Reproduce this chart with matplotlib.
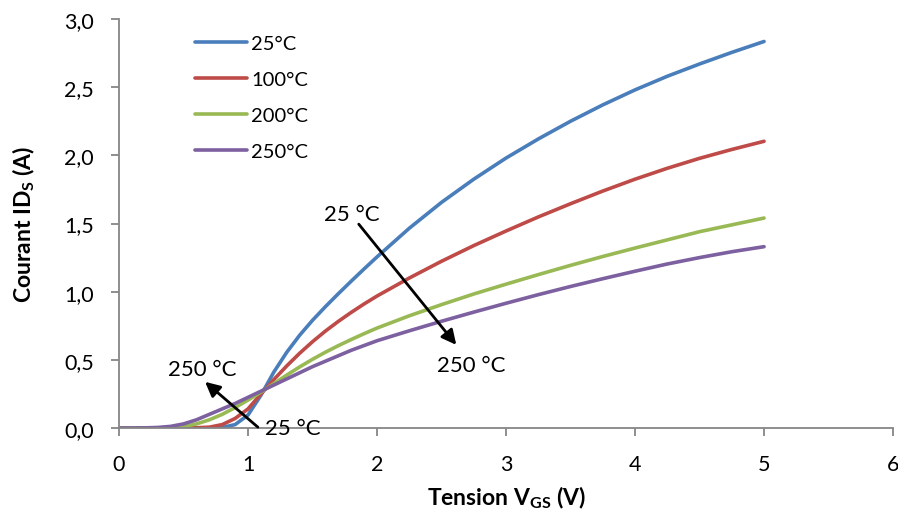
import matplotlib
matplotlib.use("Agg")
import matplotlib.pyplot as plt
from matplotlib.ticker import FuncFormatter

plt.rcParams['font.family'] = ['Lato', 'DejaVu Sans']
plt.rcParams['mathtext.fontset'] = 'custom'
plt.rcParams['mathtext.rm'] = 'Lato'
plt.rcParams['mathtext.bf'] = 'Lato:bold'

# data
vgs = [0, 0.1, 0.2, 0.3, 0.4, 0.5, 0.6, 0.7, 0.8, 0.9, 1.0, 1.1, 1.2, 1.3, 1.4, 1.5, 1.6,
       1.7, 1.8, 1.9, 2.0, 2.25, 2.5, 2.75, 3.0, 3.25, 3.5, 3.75, 4.0, 4.25, 4.5, 4.75, 5.0]
ids_25 = [0, 0, 0, 0, 0, 0, 0, 0.001, 0.004, 0.025, 0.095, 0.24, 0.41, 0.555, 0.68, 0.79, 0.89,
          0.985, 1.077, 1.167, 1.255, 1.465, 1.655, 1.825, 1.98, 2.12, 2.25, 2.37, 2.48, 2.58, 2.67, 2.755, 2.835]
ids_100 = [0, 0, 0, 0, 0, 0.001, 0.002, 0.006, 0.025, 0.07, 0.14, 0.25, 0.355, 0.455, 0.548, 0.633, 0.711,
           0.782, 0.848, 0.91, 0.968, 1.10, 1.223, 1.338, 1.445, 1.548, 1.645, 1.738, 1.825, 1.905, 1.978, 2.043, 2.103]
ids_200 = [0, 0, 0, 0.001, 0.003, 0.01, 0.03, 0.06, 0.10, 0.15, 0.205, 0.263, 0.325, 0.388, 0.448, 0.504, 0.556,
           0.604, 0.649, 0.692, 0.733, 0.823, 0.905, 0.983, 1.055, 1.125, 1.193, 1.258, 1.32, 1.38, 1.44, 1.49, 1.54]
ids_250 = [0, 0, 0.001, 0.004, 0.012, 0.03, 0.06, 0.10, 0.14, 0.18, 0.225, 0.27, 0.315, 0.36, 0.405, 0.45, 0.49,
           0.53, 0.57, 0.605, 0.64, 0.713, 0.783, 0.85, 0.915, 0.978, 1.038, 1.095, 1.15, 1.203, 1.25, 1.293, 1.33]

labels = ['25°C', '100°C', '200°C', '250°C']
colors = ['#4A7EBB', '#BE4B48', '#98B954', '#7D60A0']

fig = plt.figure(figsize=(8.98, 5.10), dpi=100)
ax = fig.add_axes([0.1325, 0.1588, 0.862, 0.802])

for y, lab, c in zip([ids_25, ids_100, ids_200, ids_250], labels, colors):
    ax.plot(vgs, y, color=c, lw=2.6, label=lab, solid_capstyle='round')

ax.set_xlim(0, 6)
ax.set_ylim(0, 3.0)
ax.set_xticks(range(0, 7))
ax.set_yticks([0, 0.5, 1.0, 1.5, 2.0, 2.5, 3.0])
ax.yaxis.set_major_formatter(FuncFormatter(lambda v, p: f"{v:.1f}".replace('.', ',')))

for s in ['top', 'right']:
    ax.spines[s].set_visible(False)
for s in ['left', 'bottom']:
    ax.spines[s].set_color('#868686')
    ax.spines[s].set_linewidth(1.3)
ax.tick_params(direction='out', length=6, width=1.3, color='#868686', labelsize=15.5)
ax.tick_params(axis='x', pad=13)
ax.tick_params(axis='y', pad=12)

ax.set_xlabel(r'Tension V$_\mathbf{GS}$ (V)', fontsize=16.5, fontweight='bold')
ax.set_ylabel(r'Courant ID$_\mathbf{S}$ (A)', fontsize=16.5, fontweight='bold')
ax.xaxis.set_label_coords(0.5, -0.135)
ax.yaxis.set_label_coords(-0.106, 0.5)

ax.legend(loc='upper left', bbox_to_anchor=(0.098, 0.962), frameon=False,
          borderpad=0, borderaxespad=0, fontsize=14.5, handlelength=2.6,
          handletextpad=0.2, labelspacing=0.95)

arrow = dict(arrowstyle='-|>', color='black', lw=2, mutation_scale=22)
ax.annotate('', xy=(2.628, 0.594), xytext=(1.845, 1.511), arrowprops=arrow)
ax.text(1.806, 1.570, '25 °C', fontsize=16, ha='center', va='center')
ax.text(2.729, 0.462, '250 °C', fontsize=16, ha='center', va='center')

ax.annotate('', xy=(0.651, 0.352), xytext=(1.093, -0.007), arrowprops=arrow,
            annotation_clip=False)
ax.text(0.643, 0.433, '250 °C', fontsize=16, ha='center', va='center')
ax.text(1.349, 0.0, '25 °C', fontsize=16, ha='center', va='center', clip_on=False)

fig.savefig('out.png', dpi=100)
